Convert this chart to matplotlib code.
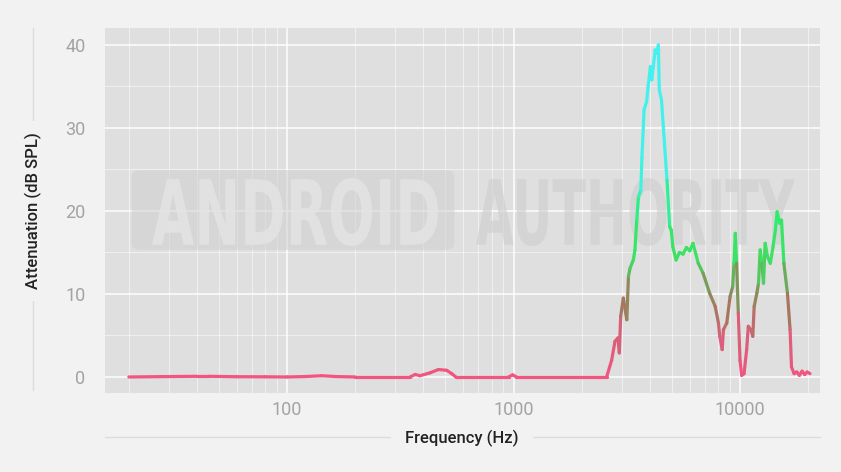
import numpy as np
import matplotlib
matplotlib.use('Agg')
import matplotlib.pyplot as plt
from matplotlib.collections import LineCollection
from matplotlib.colors import LinearSegmentedColormap
from matplotlib.textpath import TextPath
from matplotlib.patches import PathPatch, FancyBboxPatch
from matplotlib.font_manager import FontProperties
from matplotlib.transforms import Affine2D
from matplotlib.lines import Line2D
from matplotlib.ticker import FixedLocator, NullFormatter

# Attenuation curve
freq = [20, 30, 40, 45, 60, 80, 100, 120, 142, 165, 200, 260, 349, 368, 386,
        428, 466, 507, 533, 556, 800, 950, 990, 1030, 2000, 2576,
        2710, 2805, 2890, 2930, 2972, 3053, 3163, 3216, 3268, 3380, 3435,
        3500, 3560, 3647, 3690, 3770, 3870, 3930, 4020, 4080, 4220, 4290,
        4360, 4400, 4500, 4650, 4760, 4890, 4970, 5050, 5220, 5400, 5600,
        5800, 6000, 6200, 6540, 6870, 7340, 7770, 8030, 8140, 8340, 8450,
        8740, 9040, 9280, 9410, 9530, 9660, 9830, 10000, 10170, 10420,
        10700, 10880, 11150, 11390, 11550, 11870, 12070, 12280, 12490,
        12700, 12920, 13230, 13610, 13990, 14330, 14580, 14990, 15250,
        15620, 16200, 16640, 16880, 17340, 17800, 18300, 18800, 19300,
        19800, 20370]
atten = [0.0, 0.05, 0.08, 0.08, 0.03, 0.02, 0.0, 0.05, 0.15, 0.05, 0.0, 0.0,
         0.0, 0.3, 0.15, 0.5, 0.9, 0.8, 0.4, 0.0, 0.0, 0.0, 0.25, 0.0, 0.0,
         0.0, 2.0, 4.3, 4.7, 2.9, 7.3, 9.5, 6.9, 12.1, 13.1, 14.1, 15.3,
         18.9, 21.7, 22.5, 26.5, 32.2, 33.2, 35.0, 37.4, 35.8, 39.4, 39.0,
         40.0, 34.6, 33.4, 27.7, 23.7, 18.1, 17.7, 15.7, 14.1, 15.0, 14.8,
         15.6, 15.2, 16.1, 13.7, 12.5, 10.1, 8.5, 6.5, 4.9, 3.3, 5.7, 6.5,
         9.7, 10.9, 13.7, 17.3, 13.7, 7.7, 2.0, 0.2, 0.4, 3.3, 6.1, 5.7,
         4.9, 8.5, 10.1, 11.3, 15.3, 13.7, 11.3, 16.1, 14.5, 13.7, 15.7,
         17.7, 19.9, 18.5, 18.9, 13.7, 10.1, 5.7, 1.2, 0.4, 0.6, 0.2, 0.7,
         0.3, 0.6, 0.4]

y_ticks = [0, 10, 20, 30, 40]
x_ticks = [100, 1000, 10000]
x_tick_labels = ['100', '1000', '10000']

bg = '#f2f2f2'
panel = '#dfdfdf'

fig = plt.figure(figsize=(8.41, 4.72), dpi=100, facecolor=bg)
ax = fig.add_axes([0.1249, 0.1674, 0.8501, 0.7733])
ax.set_facecolor(panel)

ax.set_xscale('log')
ax.set_xlim(15.7, 22550)
ax.set_ylim(-1.93, 42.05)

# grid: major + minor, white
ax.xaxis.set_major_locator(FixedLocator(x_ticks))
ax.set_xticklabels(x_tick_labels)
minor_x = [m * 10 ** e for e in range(1, 5) for m in range(2, 10)]
ax.xaxis.set_minor_locator(FixedLocator(minor_x))
ax.xaxis.set_minor_formatter(NullFormatter())
ax.set_yticks(y_ticks)
ax.set_yticks([5, 15, 25, 35], minor=True)
ax.grid(which='major', color='white', linewidth=1.3, alpha=0.8)
ax.grid(which='minor', color='white', linewidth=0.8, alpha=0.5)
ax.set_axisbelow(True)

for s in ax.spines.values():
    s.set_visible(False)
ax.tick_params(which='both', length=0)
ax.tick_params(axis='y', pad=14, labelsize=13, labelcolor='#a3a3a3')
ax.tick_params(axis='x', pad=6, labelsize=13, labelcolor='#a3a3a3')
for lab in ax.get_xticklabels() + ax.get_yticklabels():
    lab.set_family('Roboto')

# watermark
def place_text(txt, box, color, alpha):
    tp = TextPath((0, 0), txt, size=1, prop=FontProperties(family='DejaVu Sans', weight='bold'))
    ext = tp.get_extents()
    x0, y0, x1, y1 = box
    W, H = 841.0, 472.0
    tr = (Affine2D().translate(-ext.x0, -ext.y0)
          .scale((x1 - x0) / ext.width / W, (y1 - y0) / ext.height / H)
          .translate(x0 / W, 1 - y1 / H))
    patch = PathPatch(tp, transform=tr + fig.transFigure, facecolor=color,
                      edgecolor='none', alpha=alpha, zorder=1.5)
    ax.add_artist(patch)

rect = FancyBboxPatch((135 / 841, 1 - 248 / 472), 316 / 841, 76 / 472,
                      boxstyle='round,pad=0.004,rounding_size=0.012',
                      transform=fig.transFigure, facecolor='#cfcfcf',
                      edgecolor='none', alpha=0.55, zorder=1.4)
ax.add_artist(rect)
place_text('ANDROID', (152, 178, 438, 246), '#e4e4e4', 0.8)
place_text('AUTHORITY', (476, 178, 795, 246), '#cdcdcd', 0.6)

# gradient-coloured curve
cmap = LinearSegmentedColormap.from_list('att', [
    (0.0, '#f2557f'), (0.12, '#d9607a'), (0.2, '#a8765f'), (0.28, '#7a9a5a'),
    (0.36, '#3ee062'), (0.48, '#2ded6c'), (0.55, '#36f0b4'), (0.62, '#40f2e6'),
    (1.0, '#45f0f2')])
xs = np.array(freq, dtype=float)
ys = np.array(atten, dtype=float)
segs = [[(xs[i], ys[i]), (xs[i + 1], ys[i + 1])] for i in range(len(xs) - 1)]
vals = (ys[:-1] + ys[1:]) / 2
lc = LineCollection(segs, cmap=cmap, norm=plt.Normalize(0, 40),
                    linewidth=2.3, capstyle='round', joinstyle='round', zorder=3)
lc.set_array(vals)
ax.add_collection(lc)

# axis titles with guide lines
fig.add_artist(Line2D([105 / 841, 820 / 841], [1 - 437 / 472] * 2,
                      transform=fig.transFigure, color='#dcdcdc', linewidth=1))
fig.add_artist(Line2D([33 / 841] * 2, [1 - 390 / 472, 1 - 28 / 472],
                      transform=fig.transFigure, color='#dcdcdc', linewidth=1))
fig.text(462 / 841, 1 - 438 / 472, 'Frequency (Hz)', ha='center', va='center',
         fontsize=12, fontweight='medium', color='#222222', family='Roboto',
         bbox=dict(facecolor=bg, edgecolor='none', pad=10))
fig.text(33 / 841, 1 - 211 / 472, 'Attenuation (dB SPL)', ha='center', va='center',
         rotation=90, fontsize=12, fontweight='medium', color='#222222', family='Roboto',
         bbox=dict(facecolor=bg, edgecolor='none', pad=8))

fig.savefig('out.png', dpi=100, facecolor=bg)
